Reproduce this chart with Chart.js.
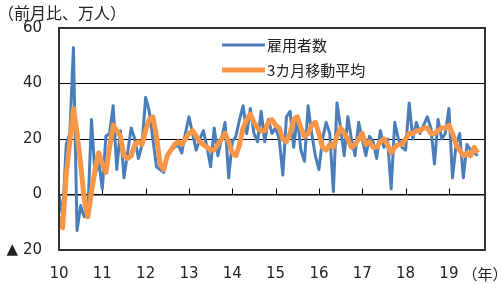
<!DOCTYPE html>
<html>
<head>
<meta charset="utf-8">
<script src="https://cdn.jsdelivr.net/npm/chart.js@4.4.1/dist/chart.umd.min.js"></script>
<style>
  html, body { margin: 0; padding: 0; background: #fff; }
  canvas { display: block; }
</style>
</head>
<body>
<canvas id="chart" width="500" height="284"></canvas>
<script>
// year labels for the x axis (one per January)
const yearLabels = ['10', '11', '12', '13', '14', '15', '16', '17', '18', '19'];

// monthly change in employees, 10k persons (Jan 2010 - Sep 2019)
const employees = [
    0, -8, 18, 22, 53, -13, -4, -8, -6, 27, 7, 12,
    2, 21, 22, 32, 9, 23, 6, 15, 24, 20, 13, 18,
    35, 30, 20, 10, 9, 8, 14, 16, 17, 18, 15, 22,
    28, 22, 16, 20, 23, 17, 10, 24, 14, 20, 26, 6,
    19, 21, 27, 32, 22, 31, 22, 19, 30, 19, 27, 22,
    24, 20, 7, 28, 30, 17, 28, 16, 12, 32, 22, 14,
    9, 20, 26, 22, 1, 33, 24, 14, 28, 20, 14, 26,
    20, 14, 21, 19, 13, 23, 17, 20, 2, 26, 20, 17,
    16, 33, 20, 26, 22, 25, 28, 24, 11, 27, 20, 22,
    31, 6, 18, 22, 6, 18, 16, 15, 14
];

// 3-month moving average
const movingAverage = [
    -8, -12, 7, 19, 31, 22, 11, -2, -8, 1, 9, 15,
    11, 8, 17, 25, 23, 21, 14, 13, 14, 18, 19, 18,
    23, 27, 28, 21, 11, 9, 14, 16, 18, 19, 18, 20,
    22, 23, 21, 19, 18, 17, 16, 16, 18, 20, 22, 19,
    15, 14, 18, 24, 27, 29, 26, 24, 23, 23, 26, 27,
    25, 24, 20, 19, 22, 27, 28, 24, 21, 22, 25, 26,
    22, 17, 16, 18, 17, 21, 24, 22, 20, 17, 18, 20,
    22, 18, 19, 17, 17, 19, 20, 18, 15, 17, 18, 18,
    20, 22, 22, 23, 23, 24, 24, 22, 22, 23, 24, 24,
    25, 22, 18, 16, 14, 15, 14, 17, 15
];

const seriesNames = ['雇用者数', '3カ月移動平均'];

const cjk = '"Noto Sans CJK JP", "Noto Sans", sans-serif';
Chart.defaults.font.family = '"DejaVu Sans", sans-serif';
Chart.defaults.color = '#222';

const toPoints = arr => arr.map((v, i) => ({ x: i, y: v }));

// frame, small year ticks on the zero line, legend and extra texts
const decorations = {
    id: 'decorations',
    beforeDatasetsDraw(chart) {
        const { ctx, scales: { x, y } } = chart;
        const y0 = y.getPixelForValue(0);
        ctx.save();
        ctx.strokeStyle = '#000';
        ctx.lineWidth = 1;
        ctx.beginPath();
        x.ticks.forEach(t => {
            if (t.value === 0) return;
            const px = Math.round(x.getPixelForValue(t.value)) + 0.5;
            ctx.moveTo(px, y0);
            ctx.lineTo(px, y0 - 6);
        });
        ctx.stroke();
        ctx.restore();
    },
    afterDraw(chart) {
        const { ctx, chartArea: a } = chart;
        ctx.save();
        ctx.strokeStyle = '#333';
        ctx.lineWidth = 2;
        ctx.strokeRect(a.left, a.top, a.right - a.left, a.bottom - a.top);

        ctx.fillStyle = '#222';
        ctx.textBaseline = 'middle';
        ctx.font = '16px ' + cjk;
        ctx.textAlign = 'left';
        ctx.fillText('（前月比、万人）', -2, 13);
        ctx.font = '15px ' + cjk;
        ctx.textAlign = 'center';
        ctx.fillText('（年）', 485, 274);

        // legend
        ctx.textAlign = 'left';
        ctx.font = '15px ' + cjk;
        const rows = [45, 70];
        chart.data.datasets.forEach(ds => {
            const ly = rows[seriesNames.indexOf(ds.label)];
            ctx.strokeStyle = ds.borderColor;
            ctx.lineWidth = ds.borderWidth;
            ctx.beginPath();
            ctx.moveTo(222, ly);
            ctx.lineTo(265, ly);
            ctx.stroke();
            ctx.fillText(ds.label, 267, ly);
        });
        ctx.restore();
    }
};

new Chart(document.getElementById('chart'), {
    type: 'line',
    data: {
        datasets: [
            {
                label: seriesNames[1],
                data: toPoints(movingAverage),
                borderColor: '#f79646',
                borderWidth: 5,
                pointRadius: 0,
                tension: 0,
                borderJoinStyle: 'round',
                order: 1
            },
            {
                label: seriesNames[0],
                data: toPoints(employees),
                borderColor: '#4a7ebb',
                borderWidth: 3,
                pointRadius: 0,
                tension: 0,
                borderJoinStyle: 'round',
                order: 2
            }
        ]
    },
    options: {
        responsive: false,
        animation: false,
        events: [],
        layout: { padding: { left: 0, right: 15, top: 28, bottom: 0 } },
        plugins: { legend: { display: false }, tooltip: { enabled: false } },
        scales: {
            x: {
                type: 'linear',
                min: 0,
                max: 118,
                afterBuildTicks: scale => {
                    scale.ticks = yearLabels.map((_, i) => ({ value: i * 12 }));
                },
                afterFit: scale => { scale.height = 34; },
                grid: { display: false, drawTicks: false },
                border: { display: false },
                ticks: {
                    autoSkip: false,
                    maxRotation: 0,
                    padding: 15,
                    font: { size: 15 },
                    callback: v => yearLabels[Math.round(v / 12)]
                }
            },
            y: {
                min: -20,
                max: 60,
                afterFit: scale => { scale.width = 59; },
                border: { display: false },
                grid: {
                    drawTicks: false,
                    color: c => (c.tick.value === 60 || c.tick.value === -20) ? 'rgba(0,0,0,0)' : '#000',
                    lineWidth: c => c.tick.value === 0 ? 1.5 : 1
                },
                ticks: {
                    stepSize: 20,
                    padding: 17,
                    font: { size: 15 },
                    callback: v => v < 0 ? '▲ ' + Math.abs(v) : String(v)
                }
            }
        }
    },
    plugins: [decorations]
});
</script>
</body>
</html>
